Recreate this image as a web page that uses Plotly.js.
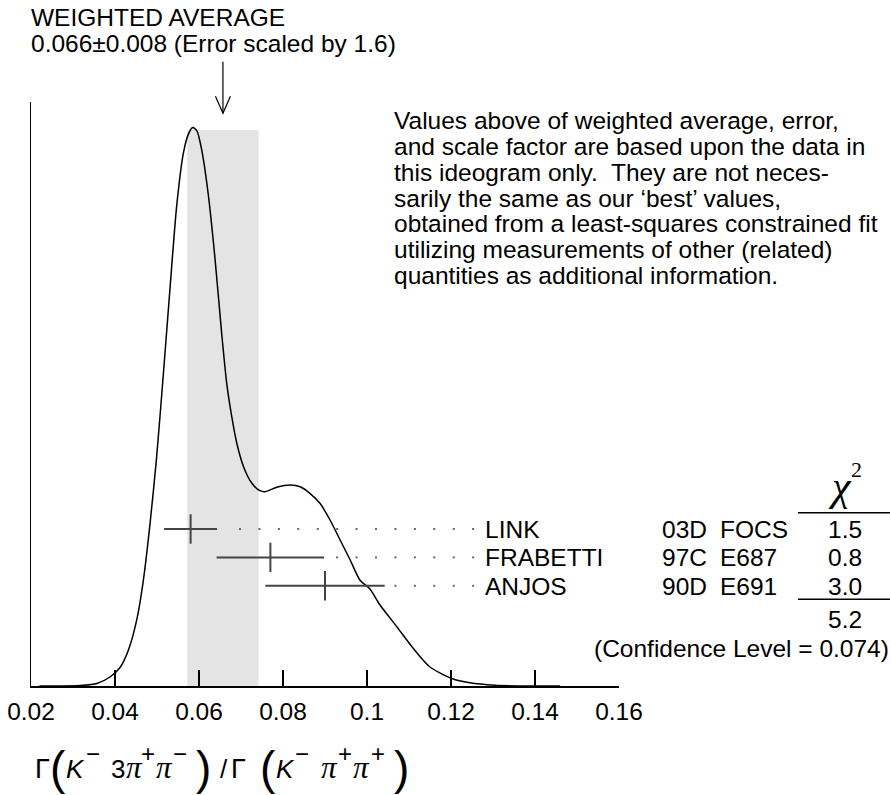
<!DOCTYPE html>
<html><head><meta charset="utf-8">
<script src="https://cdn.plot.ly/plotly-3.0.1.min.js"></script>
<style>html,body{margin:0;padding:0;background:#fff}</style>
</head><body><div id="chart" style="width:890px;height:795px"></div>
<script>
// ---- data ----
const names = ["LINK", "FRABETTI", "ANJOS"];
const refs = ["03D", "97C", "90D"];
const exps = ["FOCS", "E687", "E691"];
const values = [0.058, 0.077, 0.090];
const errors = [0.0063, 0.0128, 0.0142];
const chi2 = ["1.5", "0.8", "3.0"];
const chi2Total = "5.2";
const confLevel = "0.074";
const wavg = 0.0657;
const werr = 0.0085;
const avgLabel = "0.066";
const errLabel = "0.008";
const scaleLabel = "1.6";
const curveX = [0.0220, 0.0245, 0.0317, 0.0357, 0.0388, 0.0412, 0.0432, 0.0452, 0.0467, 0.0483,
  0.0499, 0.0515, 0.0531, 0.0547, 0.0563, 0.0575, 0.0585, 0.0595, 0.0606, 0.0622,
  0.0638, 0.0654, 0.0666, 0.0678, 0.0690, 0.0706, 0.0726, 0.0745, 0.0757, 0.0785,
  0.0817, 0.0841, 0.0864, 0.0888, 0.0912, 0.0936, 0.0960, 0.0983, 0.1007, 0.1031,
  0.1071, 0.1110, 0.1150, 0.1202, 0.1245, 0.1305, 0.1388, 0.1460];
const curveY = [0.0000, 0.0000, 0.0009, 0.0045, 0.0161, 0.0331, 0.0645, 0.1192, 0.1866, 0.2877,
  0.4090, 0.5572, 0.7123, 0.8605, 0.9549, 0.9885, 1.0000, 0.9939, 0.9617, 0.8808,
  0.7662, 0.6313, 0.5420, 0.4822, 0.4346, 0.3927, 0.3629, 0.3497, 0.3479, 0.3558,
  0.3599, 0.3568, 0.3450, 0.3271, 0.2972, 0.2614, 0.2256, 0.1898, 0.1737, 0.1450,
  0.1062, 0.0675, 0.0340, 0.0134, 0.0057, 0.0014, 0.0000, 0.0000];
const tickVals = [0.02, 0.04, 0.06, 0.08, 0.10, 0.12, 0.14, 0.16];
const tickLabels = ["0.02", "0.04", "0.06", "0.08", "0.1", "0.12", "0.14", "0.16"];
const noteLines = [
  "Values above of weighted average, error,",
  "and scale factor are based upon the data in",
  "this ideogram only.\u00a0 They are not neces-",
  "sarily the same as our \u2018best\u2019 values,",
  "obtained from a least-squares constrained fit",
  "utilizing measurements of other (related)",
  "quantities as additional information."
];
// axis title  Γ(K− 3π+ π−)/Γ(K− π+ π+) as glyph runs
const titleGlyphs = ["\u0393", "(", "K", "\u2212", "3", "\u03c0", "+", "\u03c0", "\u2212", ")",
  "/", "\u0393", "(", "K", "\u2212", "\u03c0", "+", "\u03c0", "+", ")"];
const titleKinds = ["g", "p", "k", "s", "n", "pi", "s", "pi", "s", "p",
  "n", "g", "p", "k", "s", "pi", "s", "pi", "s", "p"];

// ---- geometry ----
const W = 890, H = 795;
const L = 31, R = 619, T = 102, B = 686;
const X0 = 0.02, X1 = 0.16;
const pxPerUnitY = 558.5;           // pixels per unit of ideogram height
const yMax = (B - T) / pxPerUnitY;
const FONT = "Liberation Sans, Arial, Helvetica, sans-serif";
const SERIF = "Liberation Serif, Times New Roman, serif";
const FS = 24.5;

const px2x = px => X0 + (px - L) / (R - L) * (X1 - X0);
const x2px = x => L + (x - X0) / (X1 - X0) * (R - L);
const py2y = py => (B - py) / pxPerUnitY;
const pxPaper = px => (px - L) / (R - L);
const pyPaper = py => (B - py) / (B - T);

const rowPx = names.map((n, i) => 529 + i * 28.4);
const rowY = rowPx.map(py2y);

// dotted leaders on a common grid
const dotX = [], dotY = [];
names.forEach((n, i) => {
  const endPx = x2px(values[i] + errors[i]);
  for (let k = 0; k < 40; k++) {
    const p = 240 + k * 19.43;
    if (p > 476) break;
    if (p >= endPx + 10) { dotX.push(px2x(p)); dotY.push(rowY[i]); }
  }
});

const traces = [
  {
    x: curveX, y: curveY, type: "scatter", mode: "lines",
    line: {color: "#000", width: 1.5, shape: "spline", smoothing: 0.7},
    hoverinfo: "skip", showlegend: false
  },
  {
    x: dotX, y: dotY, type: "scatter", mode: "markers",
    marker: {symbol: "square", size: 2, color: "#666"},
    hoverinfo: "skip", showlegend: false
  },
  {
    x: values, y: rowY, type: "scatter", mode: "markers",
    error_x: {type: "data", array: errors, visible: true, thickness: 2, width: 0, color: "#444"},
    marker: {symbol: "line-ns", size: 21, color: "#444", line: {width: 2, color: "#444"}},
    hoverinfo: "skip", showlegend: false
  }
];

function ann(text, px, pyCenter, o) {
  o = o || {};
  return {
    xref: "paper", yref: "paper", x: pxPaper(px), y: pyPaper(pyCenter),
    text: text, showarrow: false, xanchor: o.xa || "left", yanchor: "middle",
    borderpad: 0, borderwidth: 0,
    font: {family: o.family || FONT, size: o.size || FS, color: "#000"}
  };
}

const annotations = [
  ann("WEIGHTED AVERAGE", 31, 17.7),
  ann(avgLabel + "\u00b1" + errLabel + " (Error scaled by " + scaleLabel + ")", 31, 43.4)
];
noteLines.forEach((t, i) => annotations.push(ann(t, 394, 120.8 + i * 25.8)));
names.forEach((n, i) => {
  annotations.push(ann(n, 485, rowPx[i] + 0.5));
  annotations.push(ann(refs[i], 662, rowPx[i] + 0.5));
  annotations.push(ann(exps[i], 720, rowPx[i] + 0.5));
  annotations.push(ann(chi2[i], 862, rowPx[i] + 0.5, {xa: "right"}));
});
annotations.push(ann(chi2Total, 862, 619.5, {xa: "right"}));
annotations.push(ann("(Confidence Level = " + confLevel + ")", 889, 648.5, {xa: "right"}));
annotations.push(ann("<i>\u03c7</i>", 840, 485.5, {xa: "center", family: SERIF, size: 42}));
annotations.push(ann("2", 857, 469.6, {xa: "center", family: SERIF, size: 22}));

// title glyph layout (left edges in px)
const titleLeft = [35, 50, 66, 86, 111, 126, 141, 156, 173, 196,
  220, 231, 260, 276, 295, 321, 338, 353, 371, 394];
const kindStyle = {
  g:  {size: 27, family: FONT, cy: 769, it: false},
  n:  {size: 26, family: FONT, cy: 769, it: false},
  k:  {size: 26, family: FONT, cy: 769, it: true},
  pi: {size: 31, family: SERIF, cy: 767.5, it: true},
  s:  {size: 24, family: FONT, cy: 753, it: false},
  p:  {size: 46, family: FONT, cy: 768, it: false}
};
titleGlyphs.forEach((g, i) => {
  const st = kindStyle[titleKinds[i]];
  annotations.push(ann(st.it ? "<i>" + g + "</i>" : g, titleLeft[i], st.cy, {size: st.size, family: st.family}));
});

const arrowTop = 61.7, arrowTip = 113.3, headH = 17, headHalf = 7.5;
const ax = x2px(wavg);
const shapes = [
  {type: "rect", xref: "x", yref: "y", x0: wavg - werr, x1: wavg + werr, y0: 0, y1: py2y(130),
   fillcolor: "#e4e4e4", line: {width: 0}, layer: "below"},
  {type: "line", xref: "x", yref: "paper", x0: wavg, x1: wavg, y0: pyPaper(arrowTop), y1: pyPaper(arrowTip),
   line: {color: "#000", width: 1.2}},
  {type: "path", xref: "paper", yref: "paper",
   path: "M" + pxPaper(ax - headHalf) + "," + pyPaper(arrowTip - headH) +
         " L" + pxPaper(ax) + "," + pyPaper(arrowTip) +
         " L" + pxPaper(ax + headHalf) + "," + pyPaper(arrowTip - headH),
   line: {color: "#000", width: 1.2}},
  {type: "line", xref: "paper", yref: "paper", x0: pxPaper(798), x1: pxPaper(890), y0: pyPaper(512.7), y1: pyPaper(512.7),
   line: {color: "#000", width: 1.5}},
  {type: "line", xref: "paper", yref: "paper", x0: pxPaper(798), x1: pxPaper(890), y0: pyPaper(599.3), y1: pyPaper(599.3),
   line: {color: "#000", width: 1.5}}
];

const layout = {
  width: W, height: H,
  margin: {l: L, r: W - R, t: T, b: H - B, pad: 0},
  paper_bgcolor: "#fff", plot_bgcolor: "rgba(0,0,0,0)",
  showlegend: false,
  xaxis: {
    range: [X0 - 1e-7, X1 + 1e-7], tickmode: "array", tickvals: tickVals, ticktext: tickLabels,
    ticks: "inside", ticklen: 16, tickwidth: 1.3, tickcolor: "#000",
    showline: true, linecolor: "#000", linewidth: 1.5, showgrid: false, zeroline: false,
    ticklabelstandoff: 3,
    tickfont: {family: FONT, size: FS, color: "#000"}, fixedrange: true
  },
  yaxis: {
    range: [0, yMax], showticklabels: false, ticks: "", showgrid: false, zeroline: false,
    showline: true, linecolor: "#000", linewidth: 1.5, fixedrange: true
  },
  shapes: shapes,
  annotations: annotations
};

Plotly.newPlot("chart", traces, layout, {displayModeBar: false, staticPlot: true});
</script>
</body></html>
